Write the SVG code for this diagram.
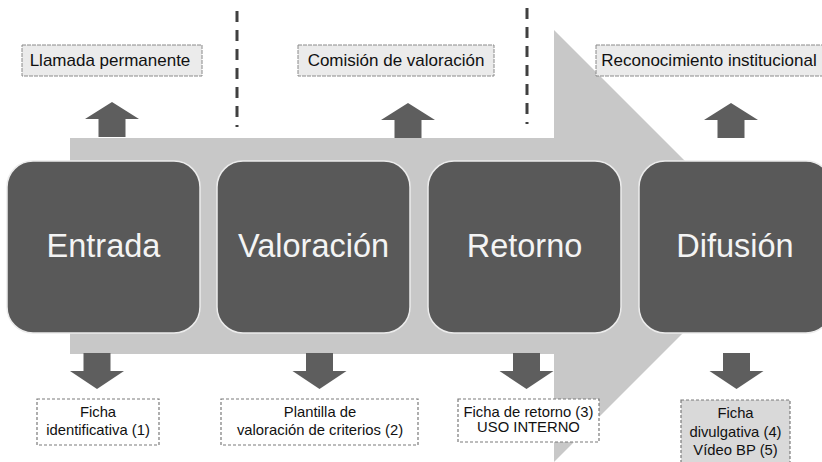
<svg xmlns="http://www.w3.org/2000/svg" width="822" height="462" viewBox="0 0 822 462">
<defs>
<style>
.big{fill:#595959;stroke:#ececec;stroke-width:1.5}
.bt{font-family:"Liberation Sans",Arial,sans-serif;font-size:32.5px;fill:#f4f4f4;text-anchor:middle}
.tl{fill:#ebebeb;stroke:#8a8a8a;stroke-width:1;stroke-dasharray:4 1}
.tt{font-family:"Liberation Sans",Arial,sans-serif;font-size:17px;fill:#111111;text-anchor:middle}
.bl{fill:#ffffff;stroke:#7a7a7a;stroke-width:1.2;stroke-dasharray:3 2}
.bl2{fill:#d9d9d9;stroke:#7a7a7a;stroke-width:1.2;stroke-dasharray:3 2}
.st{font-family:"Liberation Sans",Arial,sans-serif;font-size:14.8px;fill:#111111;text-anchor:middle}
.ar{fill:#5e5e5e}
.dash{stroke:#404040;stroke-width:3;stroke-dasharray:11 8;fill:none}
</style>
<path id="up" d="M0,0 L27,17 L13.5,17 L13.5,35 L-13.5,35 L-13.5,17 L-27,17 Z"/>
<path id="down" d="M-13.5,0 H13.5 V18 H27 L0,36 L-27,18 H-13.5 Z"/>
</defs>
<rect width="822" height="462" fill="#ffffff"/>
<g id="big-arrow">
<polygon points="70,138 554,138 554,30 770,246 554,462 554,354 70,354" fill="#c8c8c8"/>
</g>
<g id="separators">
<line class="dash" x1="237" y1="11" x2="237" y2="127"/>
<line class="dash" x1="527" y1="8" x2="527" y2="124"/>
</g>
<g id="connectors">
<use href="#up" class="ar" transform="translate(112,102)"/>
<use href="#up" class="ar" transform="translate(408,103)"/>
<use href="#up" class="ar" transform="translate(731,103)"/>
<use href="#down" class="ar" transform="translate(97,353)"/>
<use href="#down" class="ar" transform="translate(319.5,353)"/>
<use href="#down" class="ar" transform="translate(526.5,353)"/>
<use href="#down" class="ar" transform="translate(736.5,353)"/>
</g>
<g id="entrada">
<rect class="big" x="7" y="161" width="193" height="172" rx="26"/>
<text class="bt" x="103.5" y="257">Entrada</text>
</g>
<g id="valoracion">
<rect class="big" x="217" y="161" width="193" height="172" rx="26"/>
<text class="bt" x="313.5" y="257">Valoración</text>
</g>
<g id="retorno">
<rect class="big" x="428" y="161" width="193" height="172" rx="26"/>
<text class="bt" x="524.5" y="257">Retorno</text>
</g>
<g id="difusion">
<rect class="big" x="639" y="161" width="193" height="172" rx="26"/>
<text class="bt" x="735" y="257">Difusión</text>
</g>
<g id="llamada">
<rect class="tl" x="22" y="45" width="180" height="31"/>
<text class="tt" x="110" y="66">Llamada permanente</text>
</g>
<g id="comision">
<rect class="tl" x="298" y="45" width="196" height="31"/>
<text class="tt" x="396" y="66">Comisión de valoración</text>
</g>
<g id="reconocimiento">
<rect class="tl" x="596" y="45" width="236" height="31"/>
<text class="tt" x="709" y="66">Reconocimiento institucional</text>
</g>
<g id="ficha-identificativa">
<rect class="bl" x="37" y="399" width="122" height="46"/>
<text class="st" x="98" y="417">Ficha</text>
<text class="st" x="98" y="435">identificativa (1)</text>
</g>
<g id="plantilla">
<rect class="bl" x="221" y="399" width="197" height="46"/>
<text class="st" x="320" y="417">Plantilla de</text>
<text class="st" x="320" y="435">valoración de criterios (2)</text>
</g>
<g id="ficha-retorno">
<rect class="bl" x="458" y="399" width="141" height="43"/>
<text class="st" x="528.5" y="417">Ficha de retorno (3)</text>
<text class="st" x="528.5" y="432">USO INTERNO</text>
</g>
<g id="ficha-divulgativa">
<rect class="bl2" x="681" y="400" width="109" height="70"/>
<text class="st" x="735.5" y="418">Ficha</text>
<text class="st" x="735.5" y="437">divulgativa (4)</text>
<text class="st" x="735.5" y="455">Vídeo BP (5)</text>
</g>
</svg>
